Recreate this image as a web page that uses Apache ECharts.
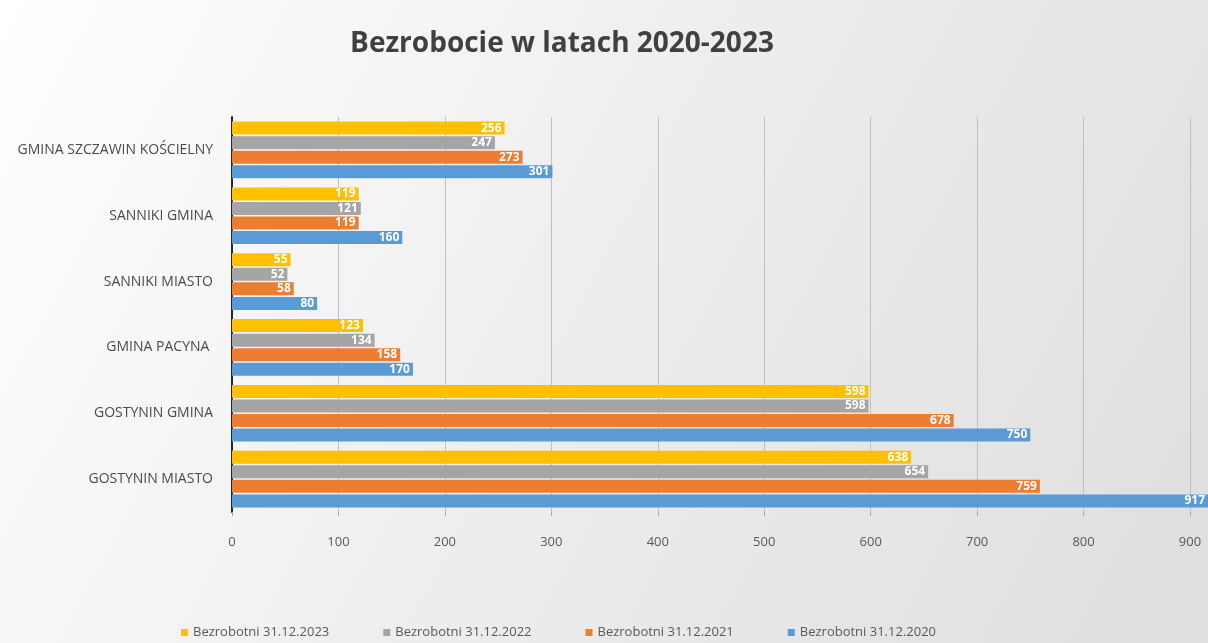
<!DOCTYPE html>
<html>
<head>
<meta charset="utf-8">
<script src="https://cdn.jsdelivr.net/npm/echarts@6/dist/echarts.min.js"></script>
<style>
html,body{margin:0;padding:0;}
#c{width:1208px;height:643px;}
</style>
</head>
<body>
<div id="c"></div>
<script>
const categories = ['GOSTYNIN MIASTO', 'GOSTYNIN GMINA', 'GMINA PACYNA ', 'SANNIKI MIASTO', 'SANNIKI GMINA', 'GMINA SZCZAWIN KOŚCIELNY'];
const seriesNames = ['Bezrobotni 31.12.2023', 'Bezrobotni 31.12.2022', 'Bezrobotni 31.12.2021', 'Bezrobotni 31.12.2020'];
const v2023 = [638, 598, 123, 55, 119, 256];
const v2022 = [654, 598, 134, 52, 121, 247];
const v2021 = [759, 678, 158, 58, 119, 273];
const v2020 = [917, 750, 170, 80, 160, 301];
const xTicks = [0, 100, 200, 300, 400, 500, 600, 700, 800, 900];

const colors = ['#FFC000', '#A5A5A5', '#ED7D31', '#5B9BD5'];
const values = [v2023, v2022, v2021, v2020];
const font = '"Open Sans", "DejaVu Sans", sans-serif';

const chart = echarts.init(document.getElementById('c'), null, {renderer: 'canvas'});
const series = seriesNames.map((name, i) => ({
  name: name,
  type: 'bar',
  data: values[i],
  clip: false,
  barGap: '12%',
  barCategoryGap: '14%',
  itemStyle: {color: colors[i]},
  label: {
    show: true,
    position: 'insideRight',
    distance: 3,
    color: '#ffffff',
    fontFamily: font,
    fontSize: 12,
    fontWeight: 'bold'
  }
}));

chart.setOption({
  backgroundColor: {
    type: 'linear', x: 0, y: 0, x2: 1, y2: 1,
    colorStops: [{offset: 0, color: '#ffffff'}, {offset: 0.5, color: '#ededed'}, {offset: 1, color: '#dedede'}]
  },
  animation: false,
  title: {
    text: 'Bezrobocie w latach 2020-2023',
    left: 557,
    top: 25,
    textAlign: 'center',
    textStyle: {fontFamily: font, fontSize: 28, fontWeight: 'bold', color: '#404040'}
  },
  legend: {
    data: seriesNames,
    top: 621,
    left: 176,
    itemWidth: 7,
    itemHeight: 7,
    itemGap: 54,
    icon: 'rect',
    textStyle: {fontFamily: font, fontSize: 13, color: '#595959'}
  },
  grid: {left: 232, right: 18, top: 117, bottom: 131, containLabel: false},
  xAxis: {
    type: 'value',
    min: xTicks[0],
    max: xTicks[xTicks.length - 1],
    interval: xTicks[1] - xTicks[0],
    axisLine: {show: false},
    axisTick: {show: true, length: 4, lineStyle: {color: '#a6a6a6'}},
    axisLabel: {margin: 24, fontFamily: font, fontSize: 13, color: '#595959'},
    splitLine: {show: true, lineStyle: {color: '#bfbfbf', width: 1}}
  },
  yAxis: {
    type: 'category',
    data: categories,
    axisLine: {show: true, lineStyle: {color: '#262626', width: 2}},
    axisTick: {show: false},
    axisLabel: {margin: 19, fontFamily: font, fontSize: 14, color: '#4a4a4a'}
  },
  series: series
});
</script>
</body>
</html>
